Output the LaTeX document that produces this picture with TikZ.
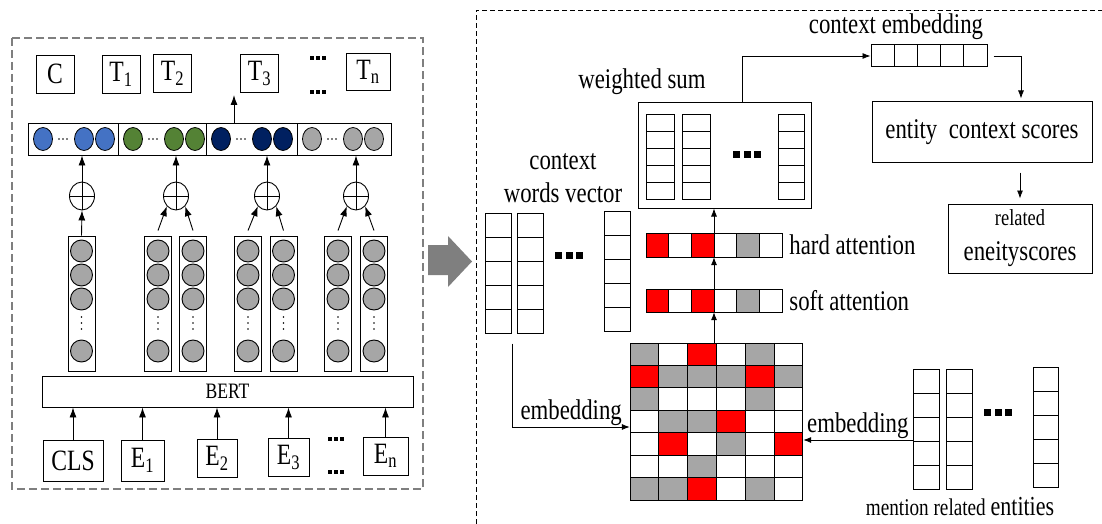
\documentclass[tikz,border=0pt]{standalone}
\usepackage{fontspec}
\setmainfont{Liberation Serif}[FakeStretch=0.8]
\usetikzlibrary{shapes,arrows,arrows.meta,positioning,calc}

\definecolor{cblue}{HTML}{4472C4}
\definecolor{cgreen}{HTML}{548235}
\definecolor{cnavy}{HTML}{002060}
\definecolor{cgray}{HTML}{A6A6A6}
\definecolor{cred}{HTML}{FF0000}
\definecolor{cdark}{HTML}{7F7F7F}

\tikzset{
  arr/.style={-{Latex[length=10pt,width=7pt]}, line width=0.9pt},
  arrs/.style={-{Latex[length=8pt,width=6pt]}, line width=0.8pt},
  tok/.style={draw, fill=white, line width=0.9pt, inner sep=0pt, minimum width=38pt, minimum height=38pt, font=\fontsize{29.5}{32}\selectfont},
  lcol/.style={draw, line width=0.9pt, inner sep=0pt, minimum width=27pt, minimum height=135pt},
  oplus/.style={draw, ellipse, line width=0.9pt, inner sep=0pt, minimum width=25pt, minimum height=28pt,
    path picture={\draw[line width=0.9pt] (path picture bounding box.north) -- (path picture bounding box.south)
      (path picture bounding box.west) -- (path picture bounding box.east);}},
  vstack/.style={draw, fill=white, line width=1pt, inner sep=0pt,
    path picture={\foreach \k in {1,...,4} \draw[line width=1pt]
      ($(path picture bounding box.north west)!\k/5!(path picture bounding box.south west)$) --
      ($(path picture bounding box.north east)!\k/5!(path picture bounding box.south east)$);}},
  hstack/.style={draw, fill=white, line width=1pt, inner sep=0pt,
    path picture={\foreach \k in {1,...,4} \draw[line width=1pt]
      ($(path picture bounding box.north west)!\k/5!(path picture bounding box.north east)$) --
      ($(path picture bounding box.south west)!\k/5!(path picture bounding box.south east)$);}},
  lbl/.style={font=\fontsize{28.5}{31}\selectfont, inner sep=1pt},
  sqdots/.pic={\foreach \k in {-1,0,1} \fill (\k*10.5-3.5,-3.5) rectangle ++(7,7);}
}

\begin{document}
\begin{tikzpicture}[x=1pt,y=-1pt]
\useasboundingbox (0,0) rectangle (1102,524);

% left panel: BERT
\draw[cdark, dash pattern=on 8pt off 4pt, line width=1.3pt] (12,38) rectangle (423,489);

\node[tok] (c) at (55,74) {C};
\node[tok] (t1) at (121,74) {T\textsubscript{1}};
\node[tok] (t2) at (172.5,73) {T\textsubscript{2}};
\node[tok] (t3) at (259.5,73) {T\textsubscript{3}};
\node[tok, minimum width=44pt, minimum height=37pt] (tn) at (368,71.5) {T\textsubscript{n}};
\pic[scale=0.55] at (318,58) {sqdots};
\pic[scale=0.55] at (318,92) {sqdots};

% output vectors
\foreach \l/\w/\c [count=\i] in {28/90/cblue,118/88/cgreen,206/91/cnavy,297/94/cgray} {
  \node[draw, line width=0.9pt, inner sep=0pt, minimum width=\w pt, minimum height=32pt] (seg\i) at (\l+\w/2,139) {};
  \foreach \dx in {15,56,77}
    \draw[fill=\c, line width=0.8pt] (\l+\dx,139) ellipse [x radius=9.5pt, y radius=11.5pt];
  \foreach \d in {-4,0,4} \fill (\l+35+\d,139) circle[radius=0.9pt];
}
\coordinate (up3) at (234,95);
\draw[arr] (seg3.north -| up3) -- (up3);

% hidden states
\foreach \cx [count=\i] in {81.5,158,193,248,283.5,338,374} {
  \node[lcol] (col\i) at (\cx,303.5) {};
  \foreach \cy in {251,275,299,351} \draw[fill=cgray, line width=0.9pt] (\cx,\cy) circle[radius=11pt];
  \foreach \d in {-6,0,6} \fill (\cx,323+\d) circle[radius=0.9pt];
}

% sums
\foreach \ox [count=\i] in {82,176,267,356} {
  \node[oplus] (op\i) at (\ox,196) {};
  \draw[arr] (op\i.north) -- (op\i.north |- seg\i.south);
}
\draw[arr] (col1.north) -- (op1.south);
\draw[arr] ([yshift=5pt]col2.north) -- (op2.south west);
\draw[arr] ([yshift=5pt]col3.north) -- (op2.south east);
\draw[arr] ([yshift=5pt]col4.north) -- (op3.south west);
\draw[arr] ([yshift=5pt]col5.north) -- (op3.south east);
\draw[arr] ([yshift=5pt]col6.north) -- (op4.south west);
\draw[arr] ([yshift=5pt]col7.north) -- (op4.south east);

\node[draw, line width=0.9pt, inner sep=0pt, minimum width=371pt, minimum height=31pt, font=\fontsize{22}{24}\selectfont] (bert) at (227.5,391.5) {BERT};

% inputs
\node[tok, minimum width=60pt, minimum height=41pt] (cls) at (73,460.5) {CLS};
\node[tok, minimum width=43pt, minimum height=41pt] (e1) at (142.5,460.5) {E\textsubscript{1}};
\node[tok, minimum width=40pt] (e2) at (217,458) {E\textsubscript{2}};
\node[tok, minimum width=41pt] (e3) at (288.5,457) {E\textsubscript{3}};
\node[tok, minimum width=45pt] (en) at (385.5,456) {E\textsubscript{n}};
\pic[scale=0.55] at (336,439) {sqdots};
\pic[scale=0.55] at (336,472) {sqdots};
\foreach \n in {cls,e1,e2,e3,en} \draw[arr] (\n.north) -- (\n.north |- bert.south);

% big arrow
\fill[cdark] (428,245) -- (448,245) -- (448,236) -- (472,261.5) -- (448,287) -- (448,275) -- (428,275) -- cycle;

% right panel: attention
\draw[dash pattern=on 5pt off 3pt, line width=0.8pt] (476,524) -- (476,10) -- (1102,10);

\node[vstack, minimum width=26pt, minimum height=120pt] (cw1) at (498,273) {};
\node[vstack, minimum width=26pt, minimum height=120pt] (cw2) at (530,273) {};
\node[vstack, minimum width=26pt, minimum height=120pt] (cw3) at (617,271) {};
\pic at (569,255) {sqdots};
\node[lbl, align=center, font=\fontsize{28.5}{33}\selectfont] (cwlbl) at (563,178) {context\\words vector};

\node[draw, line width=1pt, inner sep=0pt, minimum width=173pt, minimum height=105pt] (wsum) at (724.5,155.5) {};
\node[vstack, minimum width=28pt, minimum height=84pt] (ws1) at (660,157) {};
\node[vstack, minimum width=28pt, minimum height=84pt] (ws2) at (696,157) {};
\node[vstack, minimum width=26pt, minimum height=84pt] (ws3) at (791,157) {};
\pic at (747,154) {sqdots};
\node[lbl] (wslbl) at (642,82) {weighted sum};

% attention rows
\foreach \c [count=\i from 0] in {cred,white,cred,white,cgray,white} {
  \draw[fill=\c, line width=1pt] (646+22.67*\i,233) rectangle ++(22.67,24);
  \draw[fill=\c, line width=1pt] (646+22.67*\i,289) rectangle ++(22.67,23);
}
\node[inner sep=0pt, minimum width=136pt, minimum height=24pt] (hard) at (714,245) {};
\node[inner sep=0pt, minimum width=136pt, minimum height=23pt] (soft) at (714,300.5) {};
\node[lbl, anchor=west] at ([xshift=6pt]hard.east) {hard attention};
\node[lbl, anchor=west] at ([xshift=6pt]soft.east) {soft attention};

% matrix
\foreach \row [count=\r from 0] in {
  {cgray,white,cred,white,cgray,white},
  {cred,cgray,cgray,cgray,cred,cgray},
  {cgray,white,white,white,cgray,white},
  {white,cgray,cgray,cred,white,white},
  {white,cred,white,cgray,white,cred},
  {white,white,cgray,white,white,white},
  {cgray,cgray,cred,white,cgray,white}} {
  \foreach \c [count=\k from 0] in \row
    \draw[fill=\c, line width=1pt] (630+28.83*\k,343+22.43*\r) rectangle ++(28.83,22.43);
}
\node[inner sep=0pt, minimum width=173pt, minimum height=157pt] (mat) at (716.5,421.5) {};

\draw[arrs] (hard.north) -- (hard.north |- wsum.south);
\draw[arrs] (soft.north) -- (hard.south);
\draw[arrs] (soft.south |- mat.north) -- (soft.south);

% mention entities
\node[vstack, minimum width=26pt, minimum height=120pt] (me1) at (926,429) {};
\node[vstack, minimum width=26pt, minimum height=120pt] (me2) at (959,429) {};
\node[vstack, minimum width=25pt, minimum height=120pt] (me3) at (1045.5,427) {};
\pic at (998,412) {sqdots};
\node (melbl) at (960,507) {\fontsize{24}{26}\selectfont mention related \fontsize{27.5}{29}\selectfont entities};

\draw[arrs] ([xshift=1pt,yshift=-10pt]cw1.south east) |- ([yshift=-5.5pt]mat.west)
  node[pos=0.75, above, lbl] {embedding};
\draw[arrs] ([yshift=-11pt]me1.west) -- ([yshift=-11pt]me1.west -| mat.east)
  node[midway, above, lbl] {embedding};

% scores
\node[hstack, minimum width=116pt, minimum height=22pt] (cemb) at (929,56) {};
\node[lbl] (cemblbl) at (896,27) {context embedding};
\draw[arrs] ([xshift=17.5pt]wsum.north) |- (cemb.west);

\node[draw, line width=1pt, minimum width=220pt, minimum height=60pt, lbl] (ent) at (982,132) {entity\ \ context scores};
\draw[arrs, shorten >=3pt] ([xshift=6pt]cemb.east) -| ([xshift=39pt]ent.north);

\node[draw, line width=1pt, inner sep=0pt, minimum width=144pt, minimum height=69pt, align=center, font=\fontsize{28.5}{31}\selectfont] (rel) at (1020,238.5)
  {{\fontsize{23}{25}\selectfont related}\\[4pt]eneityscores};
\draw[arrs, shorten <=10pt, shorten >=5pt] (rel.north |- ent.south) -- (rel.north);
\end{tikzpicture}
\end{document}
